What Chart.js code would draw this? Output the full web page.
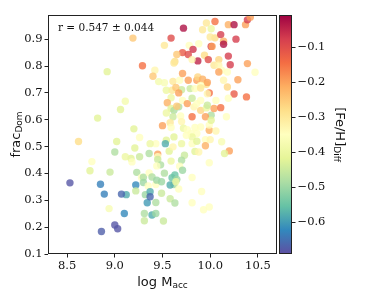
<!DOCTYPE html>
<html>
<head>
<meta charset="utf-8">
<script src="https://cdn.jsdelivr.net/npm/chart.js@4.4.1/dist/chart.umd.min.js"></script>
<style>
  html, body { margin: 0; padding: 0; background: #fff; }
  #wrap { width: 374px; height: 299px; }
</style>
</head>
<body>
<div id="wrap"><canvas id="grafico" width="374" height="299"></canvas></div>
<script>
// ===== Dados =====
const logM = [
  9.19, 9.72, 9.92, 9.96, 10.05, 10.01, 10.19, 10.25, 10.37, 10.39,
  10.42, 9.59, 9.52, 9.78, 9.71, 9.77, 9.65, 9.63, 9.62, 9.82,
  9.88, 9.87, 9.81, 9.94, 9.98, 10.01, 10.02, 10.05, 10.00, 10.11,
  10.14, 10.14, 10.19, 10.21, 10.27, 10.04, 10.09, 10.09, 10.12, 10.09,
  10.18, 10.39, 10.47, 10.29, 10.25, 10.38, 10.18, 10.14, 9.29, 9.42,
  9.40, 9.46, 9.52, 9.61, 9.68, 9.71, 9.77, 9.86, 9.87, 9.92,
  9.96, 9.97, 9.99, 9.90, 9.97, 9.70, 9.60, 9.64, 9.79, 9.84,
  9.90, 9.54, 9.59, 9.67, 9.55, 9.59, 9.67, 9.62, 9.65, 9.71,
  9.76, 9.81, 9.83, 9.86, 9.90, 9.90, 9.96, 9.97, 10.01, 10.04,
  10.06, 10.11, 10.19, 10.17, 9.95, 9.81, 9.69, 9.61, 9.54, 9.58,
  9.50, 9.59, 9.70, 9.72, 9.76, 9.80, 9.84, 9.90, 9.99, 10.06,
  9.99, 10.01, 9.95, 9.86, 9.81, 9.75, 9.62, 9.54, 9.53, 9.57,
  9.61, 9.70, 9.81, 9.86, 9.95, 10.00, 10.12, 10.20, 10.15, 9.99,
  9.84, 9.88, 9.73, 9.70, 9.68, 9.59, 9.45, 9.45, 9.45, 9.48,
  9.44, 9.36, 9.43, 9.37, 9.26, 9.17, 9.18, 9.11, 9.21, 9.26,
  9.20, 9.06, 9.11, 8.92, 8.82, 8.62, 9.00, 9.02, 8.76, 8.74,
  8.95, 9.23, 9.28, 9.30, 9.30, 9.36, 9.39, 9.43, 9.44, 9.49,
  9.52, 9.60, 9.63, 9.65, 9.62, 9.58, 9.64, 9.67, 9.71, 9.81,
  9.91, 9.93, 9.99, 9.81, 9.58, 9.63, 9.49, 9.43, 9.35, 9.32,
  9.37, 9.34, 9.37, 9.31, 9.31, 9.39, 9.43, 9.51, 9.22, 9.22,
  9.12, 9.07, 9.10, 8.94, 8.89, 8.85, 8.86, 9.00, 9.03, 8.53
];
const fracDom = [
  0.904, 0.941, 0.935, 0.960, 0.966, 0.939, 0.954, 0.954, 0.954, 0.972,
  0.982, 0.904, 0.877, 0.877, 0.850, 0.843, 0.843, 0.817, 0.811, 0.862,
  0.883, 0.819, 0.824, 0.840, 0.824, 0.873, 0.873, 0.905, 0.908, 0.917,
  0.892, 0.881, 0.837, 0.805, 0.900, 0.803, 0.824, 0.803, 0.784, 0.778,
  0.778, 0.809, 0.777, 0.749, 0.696, 0.685, 0.722, 0.747, 0.801, 0.784,
  0.762, 0.742, 0.738, 0.743, 0.747, 0.772, 0.747, 0.747, 0.759, 0.751,
  0.732, 0.739, 0.700, 0.728, 0.697, 0.712, 0.710, 0.720, 0.716, 0.716,
  0.718, 0.710, 0.682, 0.700, 0.663, 0.642, 0.648, 0.635, 0.650, 0.672,
  0.660, 0.680, 0.648, 0.660, 0.672, 0.635, 0.644, 0.654, 0.617, 0.642,
  0.672, 0.645, 0.680, 0.611, 0.611, 0.611, 0.614, 0.611, 0.625, 0.589,
  0.578, 0.571, 0.593, 0.568, 0.563, 0.549, 0.571, 0.573, 0.561, 0.558,
  0.580, 0.598, 0.526, 0.549, 0.536, 0.542, 0.536, 0.524, 0.511, 0.483,
  0.499, 0.511, 0.511, 0.520, 0.503, 0.526, 0.518, 0.484, 0.474, 0.440,
  0.482, 0.480, 0.468, 0.449, 0.427, 0.446, 0.472, 0.462, 0.452, 0.432,
  0.428, 0.474, 0.511, 0.511, 0.462, 0.456, 0.443, 0.462, 0.495, 0.534,
  0.566, 0.638, 0.669, 0.779, 0.606, 0.519, 0.480, 0.519, 0.444, 0.410,
  0.405, 0.404, 0.385, 0.386, 0.366, 0.402, 0.387, 0.359, 0.375, 0.369,
  0.401, 0.384, 0.394, 0.378, 0.359, 0.357, 0.369, 0.342, 0.412, 0.385,
  0.333, 0.265, 0.275, 0.291, 0.306, 0.290, 0.326, 0.292, 0.353, 0.321,
  0.332, 0.291, 0.313, 0.251, 0.224, 0.245, 0.251, 0.223, 0.357, 0.335,
  0.321, 0.323, 0.251, 0.269, 0.323, 0.360, 0.184, 0.208, 0.194, 0.365
];
const fehDiff = [
  -0.25, -0.03, -0.30, -0.30, -0.15, -0.40, -0.22, -0.03, -0.20, -0.08,
  -0.20, -0.10, -0.30, -0.35, -0.12, -0.10, -0.25, -0.28, -0.30, -0.07,
  -0.35, -0.05, -0.33, -0.28, -0.10, -0.08, -0.20, -0.28, -0.30, -0.08,
  -0.22, -0.03, -0.08, -0.08, -0.08, -0.30, -0.27, -0.33, -0.35, -0.20,
  -0.35, -0.20, -0.35, -0.20, -0.12, -0.15, -0.27, -0.33, -0.15, -0.33,
  -0.25, -0.38, -0.37, -0.30, -0.35, -0.20, -0.20, -0.20, -0.27, -0.22,
  -0.28, -0.20, -0.15, -0.35, -0.33, -0.45, -0.30, -0.25, -0.45, -0.35,
  -0.30, -0.40, -0.40, -0.20, -0.22, -0.42, -0.48, -0.48, -0.25, -0.35,
  -0.20, -0.45, -0.33, -0.35, -0.35, -0.27, -0.40, -0.45, -0.48, -0.20,
  -0.35, -0.15, -0.35, -0.35, -0.20, -0.15, -0.35, -0.45, -0.40, -0.30,
  -0.20, -0.35, -0.33, -0.40, -0.35, -0.35, -0.35, -0.35, -0.22, -0.33,
  -0.35, -0.42, -0.35, -0.35, -0.40, -0.35, -0.42, -0.42, -0.58, -0.42,
  -0.33, -0.40, -0.35, -0.42, -0.22, -0.33, -0.37, -0.20, -0.42, -0.35,
  -0.42, -0.33, -0.45, -0.48, -0.35, -0.40, -0.20, -0.35, -0.45, -0.48,
  -0.35, -0.48, -0.35, -0.40, -0.45, -0.42, -0.35, -0.40, -0.42, -0.35,
  -0.42, -0.42, -0.38, -0.42, -0.42, -0.28, -0.48, -0.42, -0.35, -0.42,
  -0.45, -0.48, -0.35, -0.48, -0.50, -0.35, -0.48, -0.35, -0.50, -0.50,
  -0.48, -0.55, -0.55, -0.50, -0.50, -0.58, -0.40, -0.35, -0.50, -0.35,
  -0.35, -0.35, -0.35, -0.35, -0.45, -0.48, -0.45, -0.48, -0.35, -0.50,
  -0.58, -0.60, -0.66, -0.48, -0.45, -0.58, -0.50, -0.45, -0.62, -0.45,
  -0.58, -0.66, -0.62, -0.37, -0.63, -0.63, -0.67, -0.68, -0.68, -0.68
];

const xTicks = [8.5, 9.0, 9.5, 10.0, 10.5];
const yTicks = [0.1, 0.2, 0.3, 0.4, 0.5, 0.6, 0.7, 0.8, 0.9];
const cbTicks = [-0.6, -0.5, -0.4, -0.3, -0.2, -0.1];
const corrText = "r = 0.547 \u00b1 0.044";

const cMin = -0.69, cMax = -0.01;

// Spectral invertido (roxo -> vermelho escuro)
const spectral = [
  [94, 79, 162], [50, 136, 189], [102, 194, 165], [171, 221, 164],
  [230, 245, 152], [255, 255, 191], [254, 224, 139], [253, 174, 97],
  [244, 109, 67], [213, 62, 79], [158, 1, 66]
];

function corDe(v, a) {
  let t = (v - cMin) / (cMax - cMin);
  t = Math.max(0, Math.min(1, t));
  const pos = t * (spectral.length - 1);
  const i = Math.min(Math.floor(pos), spectral.length - 2);
  const f = pos - i;
  const c = spectral[i].map((v0, k) => Math.round(v0 + (spectral[i + 1][k] - v0) * f));
  return `rgba(${c[0]},${c[1]},${c[2]},${a})`;
}

const pontos = logM.map((x, i) => ({ x: x, y: fracDom[i] }));
const cores = fehDiff.map(v => corDe(v, 0.8));

const serif = "'DejaVu Serif', serif";
const sans = "'DejaVu Sans', sans-serif";

// texto com subscrito
function textoSub(ctx, base, sub, cx, cy, ang, tamBase, tamSub) {
  ctx.save();
  ctx.translate(cx, cy);
  ctx.rotate(ang);
  ctx.font = `${tamBase}px ${sans}`;
  const wb = ctx.measureText(base).width;
  ctx.font = `${tamSub}px ${sans}`;
  const ws = ctx.measureText(sub).width;
  const x0 = -(wb + ws) / 2;
  ctx.fillStyle = '#111';
  ctx.textBaseline = 'alphabetic';
  ctx.textAlign = 'left';
  ctx.font = `${tamBase}px ${sans}`;
  ctx.fillText(base, x0, tamBase * 0.35);
  ctx.font = `${tamSub}px ${sans}`;
  ctx.fillText(sub, x0 + wb, tamBase * 0.35 + 2.5);
  ctx.restore();
}

const extras = {
  id: 'extras',
  afterDraw(chart) {
    const ctx = chart.ctx;
    const a = chart.chartArea;
    ctx.save();
    // moldura
    ctx.strokeStyle = '#222';
    ctx.lineWidth = 1;
    ctx.strokeRect(a.left + 0.5, a.top + 0.5, a.right - a.left - 1, a.bottom - a.top - 1);

    // barra de cores
    const cbL = a.right + 2, cbW = 13;
    const grad = ctx.createLinearGradient(0, a.bottom, 0, a.top);
    spectral.forEach((c, i) => grad.addColorStop(i / (spectral.length - 1), `rgb(${c[0]},${c[1]},${c[2]})`));
    ctx.fillStyle = grad;
    ctx.fillRect(cbL, a.top, cbW, a.bottom - a.top);
    ctx.strokeRect(cbL + 0.5, a.top + 0.5, cbW - 1, a.bottom - a.top - 1);

    ctx.fillStyle = '#111';
    ctx.font = `11.5px ${serif}`;
    ctx.textAlign = 'left';
    ctx.textBaseline = 'middle';
    cbTicks.forEach(v => {
      const y = a.bottom - (v - cMin) / (cMax - cMin) * (a.bottom - a.top);
      ctx.beginPath();
      ctx.moveTo(cbL + cbW, Math.round(y) + 0.5);
      ctx.lineTo(cbL + cbW + 3.5, Math.round(y) + 0.5);
      ctx.stroke();
      ctx.fillText('\u2212' + Math.abs(v).toFixed(1), cbL + cbW + 5.5, y);
    });

    // anotação
    ctx.font = `10.5px ${serif}`;
    ctx.textBaseline = 'alphabetic';
    ctx.fillText(corrText, a.left + 10, a.top + 15.5);

    // títulos dos eixos
    textoSub(ctx, 'log M', 'acc', (a.left + a.right) / 2, 281, 0, 13, 9);
    textoSub(ctx, 'frac', 'Dom', 15, (a.top + a.bottom) / 2, -Math.PI / 2, 13, 9);
    textoSub(ctx, '[Fe/H]', 'Diff', 341, (a.top + a.bottom) / 2, Math.PI / 2, 13, 9);
    ctx.restore();
  }
};

const eixoComum = {
  type: 'linear',
  grid: { display: true, drawOnChartArea: false, drawTicks: true, tickLength: 3.5, color: '#222', tickColor: '#222' },
  border: { display: false },
  ticks: { font: { family: serif, size: 11.5 }, color: '#111', padding: 2, autoSkip: false, maxRotation: 0, callback: v => Number(v).toFixed(1) }
};

new Chart(document.getElementById('grafico'), {
  type: 'scatter',
  data: {
    datasets: [{
      data: pontos,
      pointBackgroundColor: cores,
      pointBorderWidth: 0,
      pointBorderColor: 'rgba(0,0,0,0)',
      pointRadius: 3.7,
      pointHoverRadius: 3.7
    }]
  },
  options: {
    responsive: false,
    animation: false,
    devicePixelRatio: 1,
    layout: { padding: { left: 0, right: 97, top: 15, bottom: 0 } },
    plugins: { legend: { display: false }, tooltip: { enabled: false } },
    scales: {
      x: {
        ...eixoComum,
        min: 8.3, max: 10.7,
        afterBuildTicks: s => { s.ticks = xTicks.map(v => ({ value: v })); },
        afterFit: s => { s.height = 45; }
      },
      y: {
        ...eixoComum,
        min: 0.1, max: 0.99,
        afterBuildTicks: s => { s.ticks = yTicks.map(v => ({ value: v })); },
        afterFit: s => { s.width = 48; }
      }
    }
  },
  plugins: [extras]
});
</script>
</body>
</html>
